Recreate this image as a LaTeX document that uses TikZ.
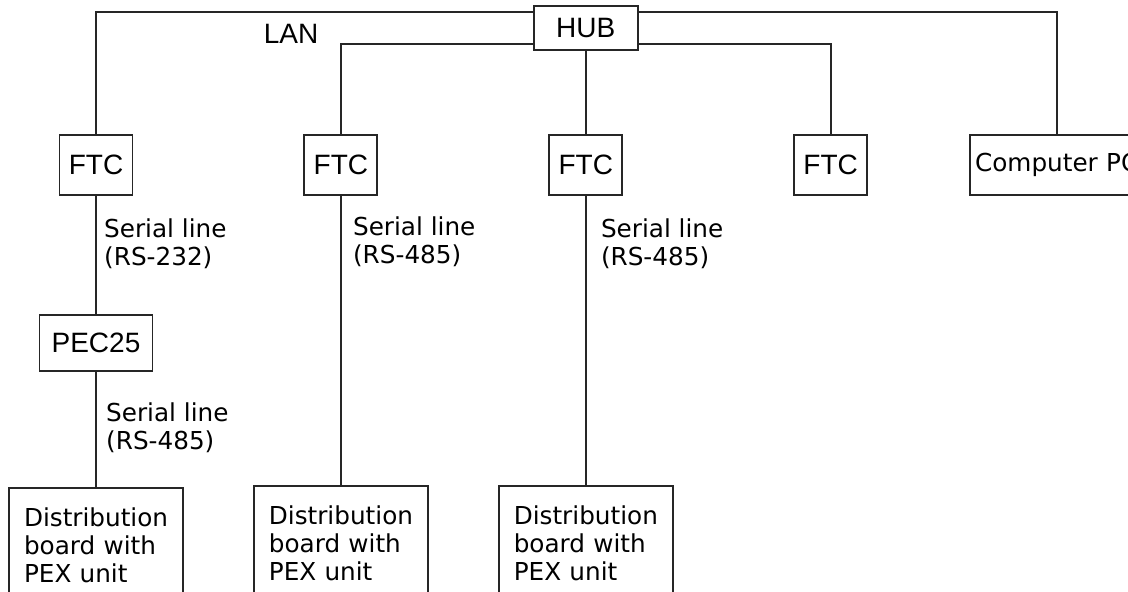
\documentclass[tikz,border=0pt]{standalone}
\usepackage{fontspec}
\setmainfont{DejaVu Sans}
\newfontfamily\unitfont{Liberation Sans}
\usepackage{xcolor}
\usepackage{tikz}
\usetikzlibrary{positioning}

\definecolor{wire}{HTML}{262626}

\begin{document}
\begin{tikzpicture}[
  x=1pt, y=-1pt,
  unit/.style={draw=wire, line width=1.9pt, inner sep=0pt, font=\unitfont\fontsize{28}{30}\selectfont, minimum width=73pt, minimum height=60pt},
  board/.style={draw=wire, line width=1.9pt, align=left, text width=144pt, inner xsep=15pt, inner ysep=20pt, font=\fontsize{24.7}{28}\selectfont},
  note/.style={align=left, inner sep=0pt, font=\fontsize{24.7}{28}\selectfont},
  link/.style={draw=wire, line width=1.9pt}
]
\clip (0,0) rectangle (1128,592);

\node[unit] (ftcA) at (96,165) {FTC};
\node[unit, right=170pt of ftcA] (ftcB) {FTC};
\node[unit, right=170pt of ftcB] (ftcC) {FTC};
\node[unit, right=170pt of ftcC] (ftcD) {FTC};
\node[unit, above=83pt of ftcC, minimum width=104pt, minimum height=44pt] (hub) {HUB};
\node[board, right=101pt of ftcD, text width=163pt, inner xsep=5pt, inner ysep=0pt, minimum height=60pt] (pc) {\rlap{Computer PC}};

\node[unit, below=118pt of ftcA, minimum width=113pt, minimum height=56pt] (pec) {PEC25};

\node[board, below=115pt of pec] (distA) {Distribution\\board with\\PEX unit};
\node[board, below=289pt of ftcB] (distB) {Distribution\\board with\\PEX unit};
\node[board, below=289pt of ftcC] (distC) {Distribution\\board with\\PEX unit};

\node[font=\unitfont\fontsize{28}{30}\selectfont, inner sep=0pt] (lan) at (291,34) {LAN};

\node[note, below right=23pt and 8pt of ftcA.south] (rsA) {Serial line\\(RS-232)};
\node[note, below right=21pt and 12pt of ftcB.south] (rsB) {Serial line\\(RS-485)};
\node[note, below right=23pt and 15pt of ftcC.south] (rsC) {Serial line\\(RS-485)};
\node[note, below right=31pt and 10pt of pec.south] (rsD) {Serial line\\(RS-485)};

% LAN
\draw[link] (ftcA.north) |- ([yshift=-7pt]hub.north west);
\draw[link] ([yshift=-7pt]hub.north east) -| (pc.north);
\draw[link] (ftcB.north) |- ([yshift=7pt]hub.south west);
\draw[link] ([yshift=7pt]hub.south east) -| (ftcD.north);
\draw[link] (hub.south) -- (ftcC.north);

% serial lines
\draw[link] (ftcA.south) -- (pec.north);
\draw[link] (pec.south) -- (distA.north);
\draw[link] (ftcB.south) -- (distB.north);
\draw[link] (ftcC.south) -- (distC.north);
\end{tikzpicture}
\end{document}
